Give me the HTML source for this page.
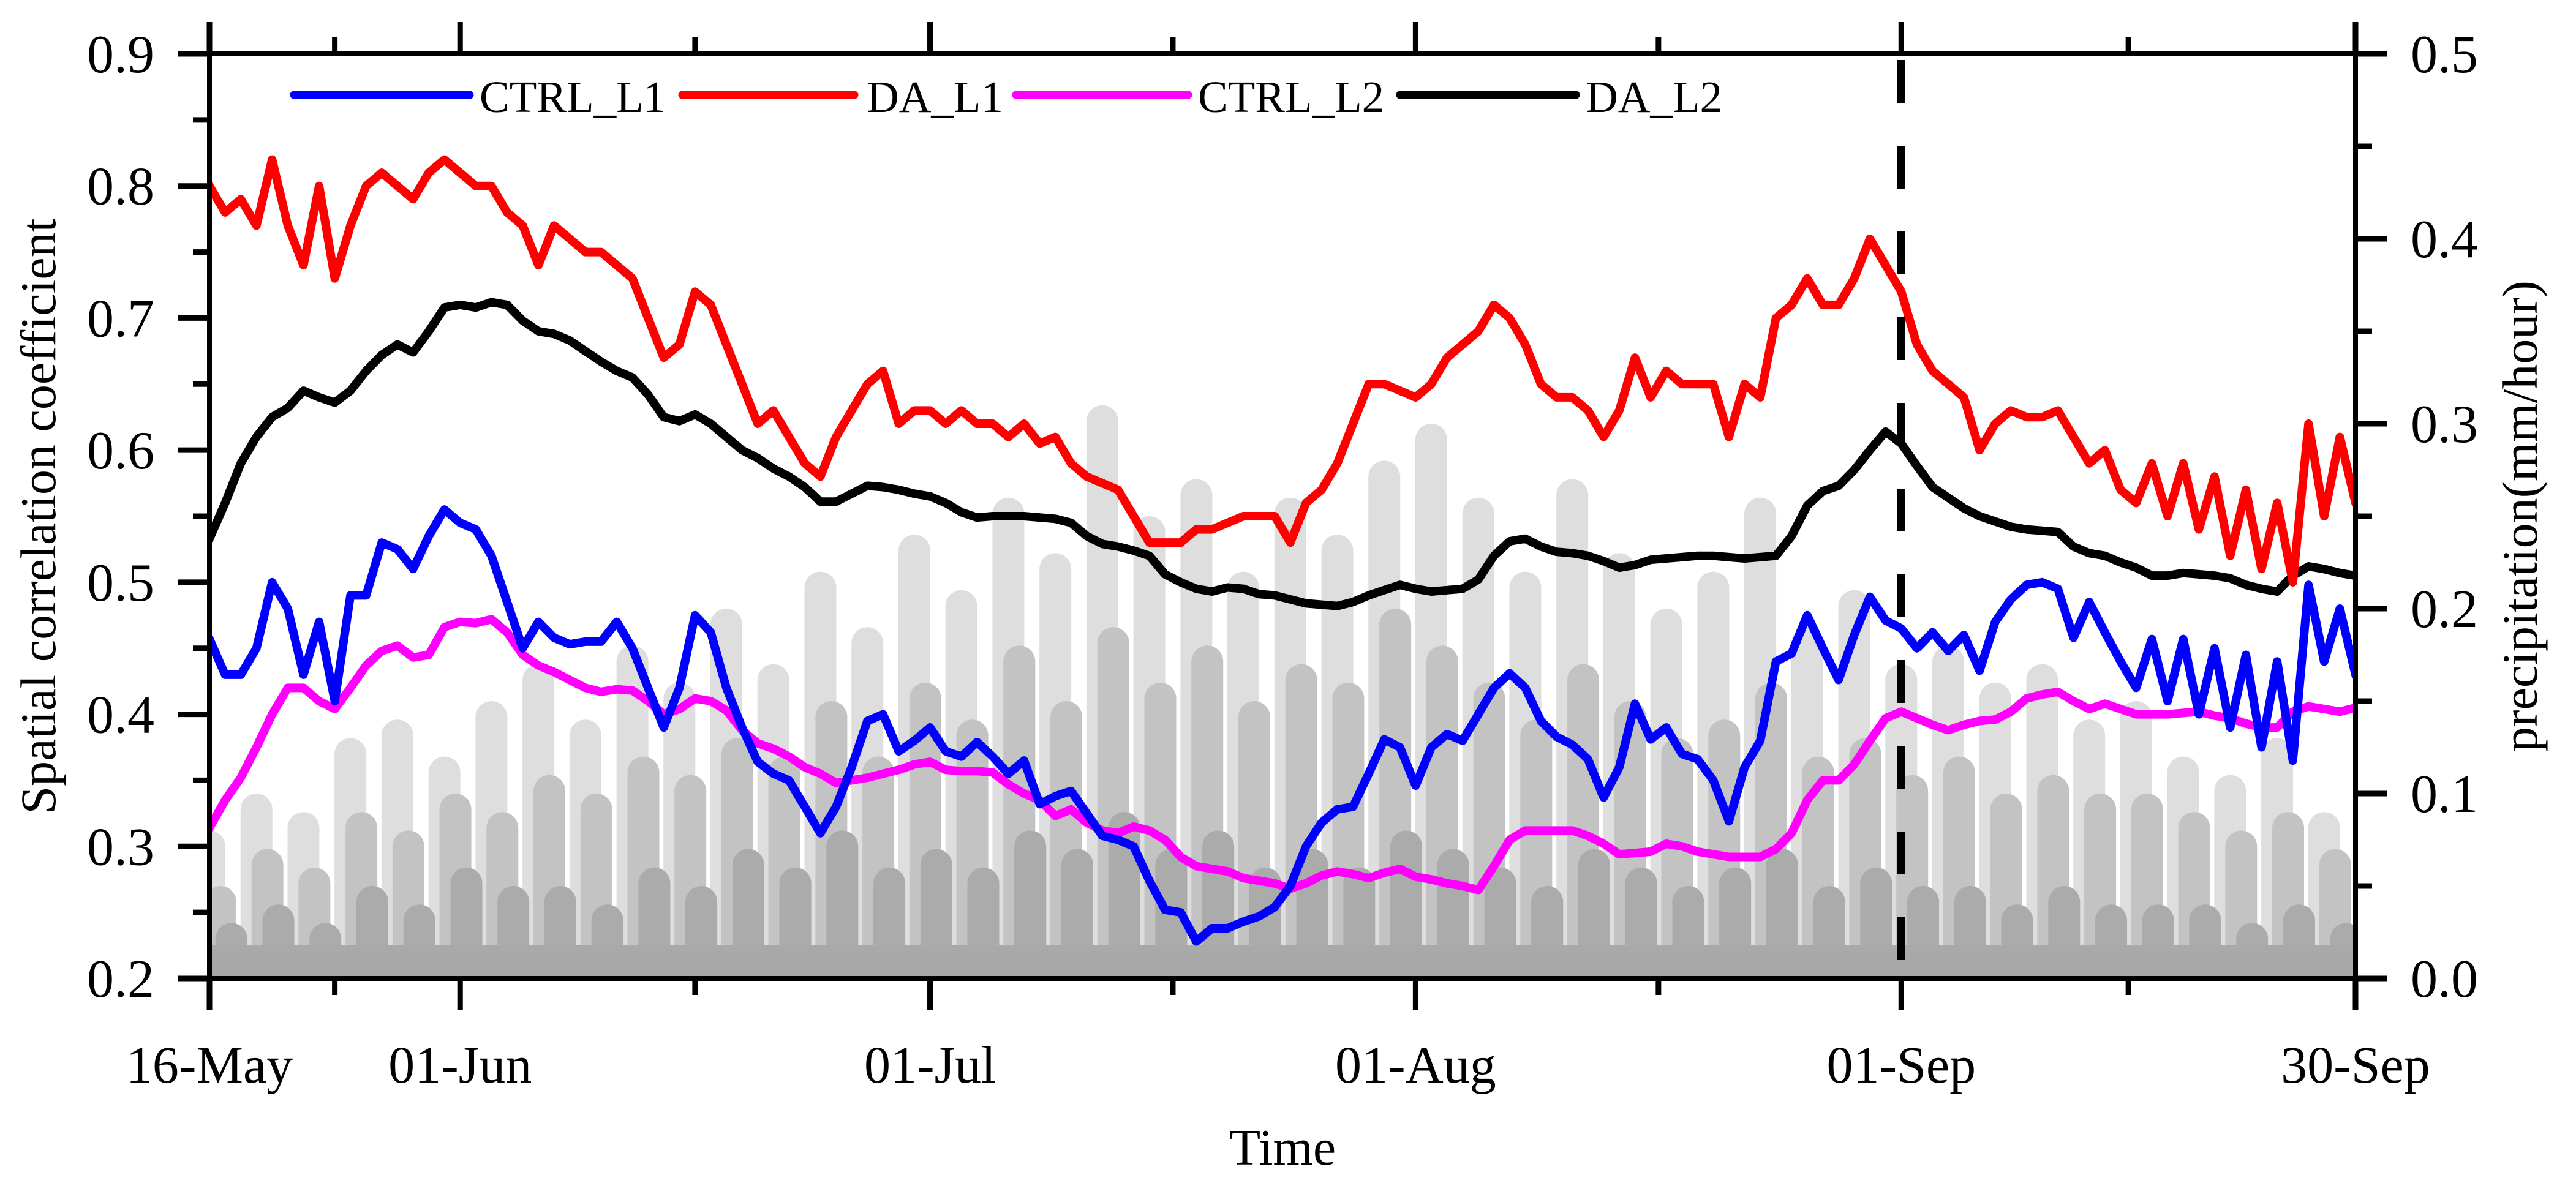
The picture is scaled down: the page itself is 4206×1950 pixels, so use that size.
<!DOCTYPE html>
<html><head><meta charset="utf-8">
<style>
html,body{margin:0;padding:0;background:#fff;}
svg{display:block;font-family:"Liberation Serif",serif;}
</style></head>
<body>
<svg id="chart" width="4206" height="1950" viewBox="0 0 4206 1950" xmlns="http://www.w3.org/2000/svg">
<defs><clipPath id="plotclip"><rect x="342" y="88" width="3504" height="1510"/></clipPath></defs>
<g id="bars" clip-path="url(#plotclip)"></g>
<g id="lines" clip-path="url(#plotclip)"></g>
<g id="axes"></g>
<g id="legend"></g>
<text x="2094" y="1902" font-size="84" text-anchor="middle">Time</text>
<text transform="translate(90,843) rotate(-90)" font-size="82" text-anchor="middle">Spatial correlation coefficient</text>
<text transform="translate(4142,843) rotate(-90)" font-size="82" text-anchor="middle">precipitation(mm/hour)</text>
</svg>
<script>
const daDays = 137;
const xTickDays = [0,16,46,77,108,137];
const xTickLabels = ["16-May","01-Jun","01-Jul","01-Aug","01-Sep","30-Sep"];
const yLeftTicks = [0.2,0.3,0.4,0.5,0.6,0.7,0.8,0.9];
const yRightTicks = [0.0,0.1,0.2,0.3,0.4,0.5];
const dashDay = 108;
const seriesNames = ["CTRL_L1","DA_L1","CTRL_L2","DA_L2"];
const ctrlL1 = [.457,.43,.43,.45,.50,.48,.43,.47,.41,.49,.49,.53,.525,.51,.535,.555,.545,.54,.52,.485,.45,.47,.458,.453,.455,.455,.47,.45,.42,.39,.42,.475,.462,.42,.39,.364,.355,.35,.33,.31,.33,.36,.395,.40,.372,.38,.39,.372,.368,.379,.368,.355,.365,.332,.338,.342,.325,.308,.305,.30,.274,.252,.25,.228,.238,.238,.243,.247,.254,.27,.30,.318,.328,.33,.355,.381,.375,.346,.375,.385,.38,.40,.42,.431,.42,.395,.383,.377,.366,.337,.36,.408,.381,.39,.37,.366,.35,.319,.36,.38,.44,.446,.475,.45,.426,.46,.489,.471,.465,.45,.462,.448,.46,.433,.47,.487,.498,.50,.495,.458,.485,.462,.44,.42,.457,.41,.457,.40,.45,.39,.445,.375,.44,.365,.498,.44,.48,.43];
const daL1 = [.80,.78,.79,.77,.82,.77,.74,.80,.73,.77,.80,.81,.80,.79,.81,.82,.81,.80,.80,.78,.77,.74,.77,.76,.75,.75,.74,.73,.70,.67,.68,.72,.71,.68,.65,.62,.63,.61,.59,.58,.61,.63,.65,.66,.62,.63,.63,.62,.63,.62,.62,.61,.62,.605,.61,.59,.58,.575,.57,.55,.53,.53,.53,.54,.54,.545,.55,.55,.55,.53,.56,.57,.59,.62,.65,.65,.645,.64,.65,.67,.68,.69,.71,.70,.68,.65,.64,.64,.63,.61,.63,.67,.64,.66,.65,.65,.65,.61,.65,.64,.70,.71,.73,.71,.71,.73,.76,.74,.72,.68,.66,.65,.64,.60,.62,.63,.625,.625,.63,.61,.59,.60,.57,.56,.59,.55,.59,.54,.58,.52,.57,.51,.56,.50,.62,.55,.61,.56];
const ctrlL2 = [.314,.335,.352,.375,.40,.42,.42,.41,.404,.42,.437,.448,.452,.443,.445,.466,.47,.469,.472,.462,.445,.437,.432,.426,.42,.417,.419,.418,.41,.40,.404,.412,.41,.403,.388,.378,.374,.368,.36,.355,.348,.35,.352,.355,.358,.362,.364,.358,.357,.357,.356,.347,.34,.335,.323,.328,.318,.312,.31,.315,.312,.305,.292,.285,.283,.281,.276,.274,.272,.268,.272,.278,.281,.279,.276,.28,.283,.277,.275,.272,.27,.267,.285,.305,.312,.312,.312,.312,.308,.302,.294,.295,.296,.302,.3,.296,.294,.292,.292,.292,.298,.31,.335,.35,.35,.362,.38,.397,.402,.397,.392,.388,.392,.395,.396,.402,.412,.415,.417,.41,.404,.408,.404,.40,.40,.40,.401,.402,.399,.397,.393,.39,.39,.402,.406,.404,.402,.405];
const daL2 = [.533,.56,.59,.61,.625,.632,.645,.64,.636,.645,.66,.672,.68,.674,.69,.708,.71,.708,.712,.71,.698,.69,.688,.683,.675,.667,.66,.655,.642,.625,.622,.627,.62,.61,.60,.594,.586,.58,.572,.561,.561,.567,.573,.572,.57,.567,.565,.56,.553,.549,.55,.55,.55,.549,.548,.545,.535,.529,.527,.524,.52,.506,.50,.495,.493,.496,.495,.491,.49,.487,.484,.483,.482,.485,.49,.494,.498,.495,.493,.494,.495,.502,.52,.531,.533,.527,.523,.522,.52,.516,.511,.513,.517,.518,.519,.52,.52,.519,.518,.519,.52,.535,.558,.569,.573,.585,.60,.614,.605,.588,.572,.564,.556,.55,.546,.542,.54,.539,.538,.527,.522,.52,.515,.511,.505,.505,.507,.506,.505,.503,.498,.495,.493,.505,.512,.51,.507,.505];
const precipStep = 3;
const precipLight = [0.08,0.10,0.09,0.13,0.14,0.12,0.15,0.17,0.14,0.18,0.16,0.20,0.17,0.22,0.19,0.24,0.21,0.26,0.23,0.31,0.25,0.27,0.22,0.26,0.24,0.28,0.30,0.26,0.22,0.27,0.23,0.20,0.22,0.26,0.19,0.21,0.17,0.18,0.16,0.17,0.14,0.15,0.12,0.11,0.13,0.09];
const precipMid = [0.05,0.07,0.06,0.09,0.08,0.10,0.09,0.11,0.10,0.12,0.11,0.13,0.12,0.15,0.12,0.16,0.14,0.18,0.15,0.19,0.16,0.18,0.15,0.17,0.16,0.20,0.18,0.16,0.14,0.17,0.15,0.13,0.14,0.16,0.12,0.13,0.11,0.12,0.10,0.11,0.10,0.10,0.09,0.08,0.09,0.07];
const precipDark = [0.03,0.04,0.03,0.05,0.04,0.06,0.05,0.05,0.04,0.06,0.05,0.07,0.06,0.08,0.06,0.07,0.06,0.08,0.07,0.09,0.07,0.08,0.06,0.07,0.06,0.08,0.07,0.06,0.05,0.07,0.06,0.05,0.06,0.07,0.05,0.06,0.05,0.05,0.04,0.05,0.04,0.04,0.04,0.03,0.04,0.03];

const NS="http://www.w3.org/2000/svg";
const L=342,R=3846,T=88,B=1598;
function xD(d){return L+d/daDays*(R-L);}
function yL(v){return B-(v-0.2)/0.7*(B-T);}
function yR(v){return B-v/0.5*(B-T);}
function mk(tag,attrs,parent){const e=document.createElementNS(NS,tag);for(const k in attrs)e.setAttribute(k,attrs[k]);parent.appendChild(e);return e;}

const bars=document.getElementById('bars');
const layers=[[precipLight,'#dedede',0],[precipMid,'#c3c3c3',1],[precipDark,'#ababab',2]];
layers.forEach(([arr,col,off])=>{
  arr.forEach((v,i)=>{
    const d=i*precipStep+off*0.7;
    const x=xD(d), w=52;
    const r=mk('rect',{x:x-w/2,y:yR(v),width:w,height:B-yR(v)+40,rx:26,fill:col},bars);
    
    
  });
});
const base=mk('rect',{x:L,y:yR(0.018),width:R-L,height:B-yR(0.018),fill:'#a9a9a9'},bars);



const lines=document.getElementById('lines');
const seriesList=[[daL2,'#000000','da-l2-line'],[ctrlL2,'#ff00ff','ctrl-l2-line'],[ctrlL1,'#0000ff','ctrl-l1-line'],[daL1,'#ff0000','da-l1-line']];
seriesList.forEach(([arr,col,name])=>{
  const pts=arr.map((v,i)=>xD(i*daDays/(arr.length-1)).toFixed(1)+','+yL(v).toFixed(1)).join(' ');
  const p=mk('polyline',{points:pts,fill:'none',stroke:col,'stroke-width':14,'stroke-linejoin':'round','stroke-linecap':'round'},lines);
  
  
});
const dash=mk('line',{x1:xD(dashDay),x2:xD(dashDay),y1:T,y2:B,stroke:'#000','stroke-width':13,'stroke-dasharray':'70 70','stroke-dashoffset':'-10'},lines);



const ax=document.getElementById('axes');
const sw=8;
const frame=mk('rect',{x:L,y:T,width:R-L,height:B-T,fill:'none',stroke:'#000','stroke-width':sw},ax);


xTickDays.forEach((d,i)=>{
  const x=xD(d);
  mk('line',{x1:x,x2:x,y1:B,y2:B+52,stroke:'#000','stroke-width':9},ax);
  mk('line',{x1:x,x2:x,y1:T,y2:T-52,stroke:'#000','stroke-width':9},ax);
  const t=mk('text',{x:x,y:1768,'font-size':86,'text-anchor':'middle'},ax);
  t.textContent=xTickLabels[i];
  
  
  if(i<xTickDays.length-1){
    const m=xD((d+xTickDays[i+1])/2);
    mk('line',{x1:m,x2:m,y1:B,y2:B+27,stroke:'#000','stroke-width':9},ax);
    mk('line',{x1:m,x2:m,y1:T,y2:T-27,stroke:'#000','stroke-width':9},ax);
  }
});
yLeftTicks.forEach((v,i)=>{
  const y=yL(v);
  mk('line',{x1:L,x2:L-52,y1:y,y2:y,stroke:'#000','stroke-width':9},ax);
  const t=mk('text',{x:252,y:y+30,'font-size':88,'text-anchor':'end'},ax);
  t.textContent=v.toFixed(1);
  
  
  if(i<yLeftTicks.length-1){const m=yL(v+0.05);mk('line',{x1:L,x2:L-27,y1:m,y2:m,stroke:'#000','stroke-width':9},ax);}
});
yRightTicks.forEach((v,i)=>{
  const y=yR(v);
  mk('line',{x1:R,x2:R+52,y1:y,y2:y,stroke:'#000','stroke-width':9},ax);
  const t=mk('text',{x:3936,y:y+30,'font-size':88,'text-anchor':'start'},ax);
  t.textContent=v.toFixed(1);
  
  
  if(i<yRightTicks.length-1){const m=yR(v+0.05);mk('line',{x1:R,x2:R+27,y1:m,y2:m,stroke:'#000','stroke-width':9},ax);}
});

const lg=document.getElementById('legend');
const legendItems=[[480,767,783,'#0000ff'],[1114,1395,1415,'#ff0000'],[1659,1940,1956,'#ff00ff'],[2286,2573,2589,'#000000']];
legendItems.forEach(([x1,x2,tx,col],i)=>{
  const g=mk('g',{},lg);
  
  
  mk('line',{x1:x1,x2:x2,y1:155,y2:155,stroke:col,'stroke-width':13,'stroke-linecap':'round'},g);
  const t=mk('text',{x:tx,y:183,'font-size':73},g);
  t.textContent=seriesNames[i];
});
</script>
</body></html>
